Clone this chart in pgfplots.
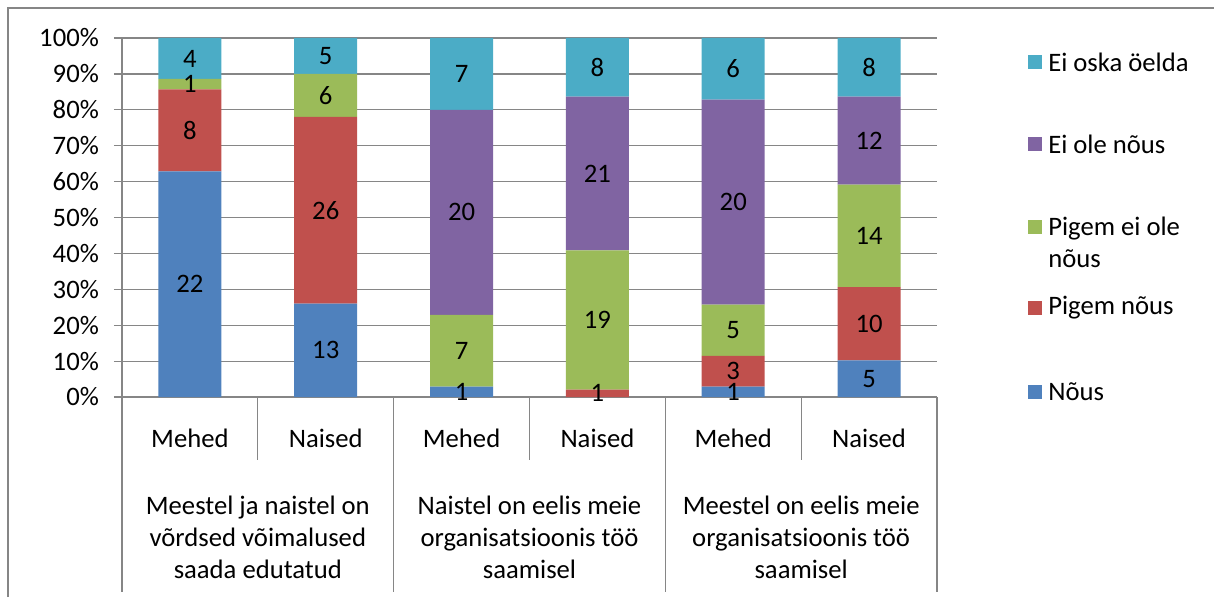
\documentclass[border=0pt]{standalone}
\usepackage{pgfplots}
\pgfplotsset{compat=1.18}
\usepackage{fontspec}
\setmainfont{Carlito}
\definecolor{nous}{HTML}{4F81BD}
\definecolor{pnous}{HTML}{C0504D}
\definecolor{peinous}{HTML}{9BBB59}
\definecolor{einous}{HTML}{8064A2}
\definecolor{eoska}{HTML}{4BACC6}
\definecolor{grline}{HTML}{868686}

\begin{document}
\fontsize{20}{24}\selectfont
\begin{tikzpicture}
\path[use as bounding box] (0,0) rectangle (910.5pt,447.75pt);
\draw[grline, line width=1.2pt] (6pt,0) -- (6pt,441.75pt) -- (910.5pt,441.75pt);
\begin{axis}[
  at={(91.5pt,150pt)}, anchor=south west,
  scale only axis, width=611.25pt, height=269.25pt,
  ybar stacked, bar width=47.25pt,
  xmin=-0.5, xmax=5.5, ymin=0, ymax=100,
  axis x line*=bottom, axis y line*=left,
  axis line style={grline, line width=0.9pt, -},
  xtick={0,...,5},
  xticklabels={Mehed,Naised,Mehed,Naised,Mehed,Naised},
  x tick style={draw=none},
  xticklabel style={anchor=center, yshift=-24.75pt},
  ytick={0,10,...,100},
  yticklabels={0\%,10\%,20\%,30\%,40\%,50\%,60\%,70\%,80\%,90\%,100\%},
  yticklabel style={anchor=east, xshift=-4.5pt},
  tick align=outside, major tick length=6pt,
  y tick style={grline, line width=0.9pt},
  ymajorgrids, grid style={grline, line width=0.9pt},
  clip=false,
  nodes near coords,
  point meta=explicit symbolic,
  every node near coord/.append style={anchor=center, text=black},
]
% Nõus
\addplot[fill=nous, draw=none] coordinates {(0,62.86) [22] (1,26) [13] (2,2.86) [1] (3,0) [] (4,2.86) [1] (5,10.20) [5]};
% Pigem nõus
\addplot[fill=pnous, draw=none] coordinates {(0,22.86) [8] (1,52) [26] (2,0) [] (3,2.04) [1] (4,8.57) [3] (5,20.41) [10]};
% Pigem ei ole nõus
\addplot[fill=peinous, draw=none] coordinates {(0,2.86) [1] (1,12) [6] (2,20) [7] (3,38.78) [19] (4,14.29) [5] (5,28.57) [14]};
% Ei ole nõus
\addplot[fill=einous, draw=none] coordinates {(0,0) [] (1,0) [] (2,57.14) [20] (3,42.86) [21] (4,57.14) [20] (5,24.49) [12]};
% Ei oska öelda
\addplot[fill=eoska, draw=none] coordinates {(0,11.43) [4] (1,10) [5] (2,20) [7] (3,16.33) [8] (4,17.14) [6] (5,16.33) [8]};

% category separators (100 units = 269.25pt)
\draw[grline, line width=0.9pt] (axis cs:0.5,0) -- (axis cs:0.5,-17.55);
\draw[grline, line width=0.9pt] (axis cs:2.5,0) -- (axis cs:2.5,-17.55);
\draw[grline, line width=0.9pt] (axis cs:4.5,0) -- (axis cs:4.5,-17.55);
\draw[grline, line width=0.9pt] (axis cs:-0.5,0) -- (axis cs:-0.5,-54.32);
\draw[grline, line width=0.9pt] (axis cs:1.5,0) -- (axis cs:1.5,-54.32);
\draw[grline, line width=0.9pt] (axis cs:3.5,0) -- (axis cs:3.5,-54.32);
\draw[grline, line width=0.9pt] (axis cs:5.5,0) -- (axis cs:5.5,-54.32);
\node[align=center, yshift=-105pt] at (axis cs:0.5,0) {Meestel ja naistel on\\võrdsed võimalused\\saada edutatud};
\node[align=center, yshift=-105pt] at (axis cs:2.5,0) {Naistel on eelis meie\\organisatsioonis töö\\saamisel};
\node[align=center, yshift=-105pt] at (axis cs:4.5,0) {Meestel on eelis meie\\organisatsioonis töö\\saamisel};
\end{axis}
% legend
\fill[eoska] (771pt,396pt) rectangle ++(10.5pt,10.5pt);
\node[anchor=west, inner sep=0pt] at (786pt,401.25pt) {Ei oska öelda};
\fill[einous] (771pt,334.5pt) rectangle ++(10.5pt,10.5pt);
\node[anchor=west, inner sep=0pt] at (786pt,339.75pt) {Ei ole nõus};
\fill[peinous] (771pt,272.25pt) rectangle ++(10.5pt,10.5pt);
\node[anchor=west, inner sep=0pt, align=left] at (786pt,265.9pt) {Pigem ei ole\\nõus};
\fill[pnous] (771pt,211.5pt) rectangle ++(10.5pt,10.5pt);
\node[anchor=west, inner sep=0pt] at (786pt,216.75pt) {Pigem nõus};
\fill[nous] (771pt,148.5pt) rectangle ++(10.5pt,10.5pt);
\node[anchor=west, inner sep=0pt] at (786pt,153.75pt) {Nõus};
\end{tikzpicture}
\end{document}
